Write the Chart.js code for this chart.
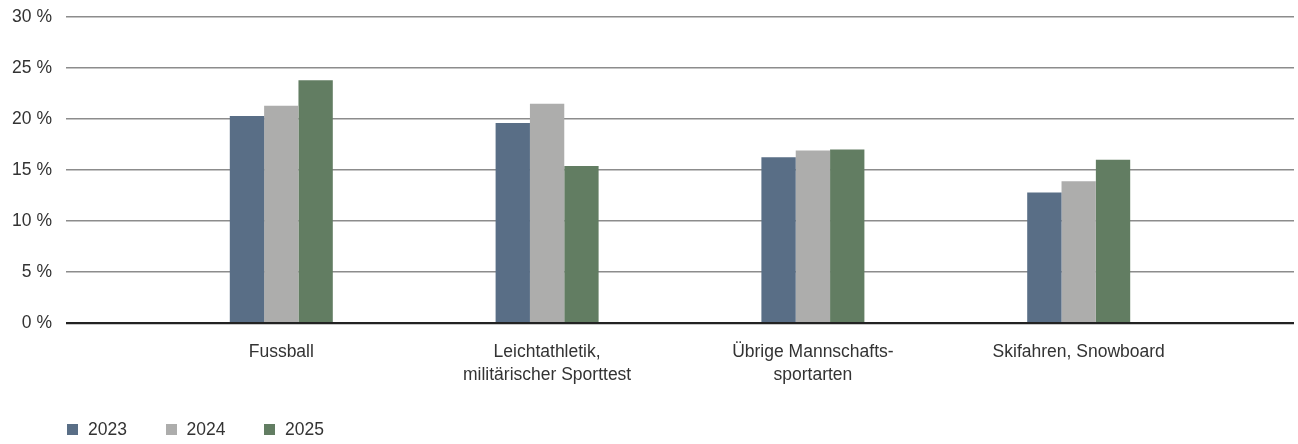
<!DOCTYPE html>
<html>
<head>
<meta charset="utf-8">
<script src="https://cdn.jsdelivr.net/npm/chart.js@4"></script>
<style>
  body { margin: 0; background: #fff; }
  #wrap { position: relative; width: 1298px; height: 444px; }
  #legende {
    position: absolute; left: 67px; top: 418px; display: flex;
    font-family: 'Liberation Sans', Arial, Helvetica, sans-serif;
    font-size: 17.5px; color: #333;
  }
  .item { display: flex; align-items: center; width: 98.5px; height: 22px; }
  .kotak { width: 11px; height: 11px; margin-right: 10px; }
</style>
</head>
<body>
<div id="wrap">
  <canvas id="sportChart"></canvas>
  <div id="legende"></div>
</div>
<script>
/* =========================
   DATA
========================= */
const kategorien = [
  'Fussball',
  ['Leichtathletik,', 'militärischer Sporttest'],
  ['Übrige Mannschafts-', 'sportarten'],
  'Skifahren, Snowboard'
];

const jahre = ['2023', '2024', '2025'];

const werte2023 = [20.3, 19.6, 16.25, 12.8];
const werte2024 = [21.3, 21.5, 16.9, 13.9];
const werte2025 = [23.8, 15.4, 17.0, 16.0];

const yTicks = [0, 5, 10, 15, 20, 25, 30];

const farben = ['#596e86', '#adadac', '#627d62'];

/* =========================
   CHART
========================= */
const schrift = { family: "'Liberation Sans', Arial, Helvetica, sans-serif", size: 17.5, lineHeight: 1.31 };
const reihen = [werte2023, werte2024, werte2025];

const chart = new Chart(document.getElementById('sportChart'), {
  type: 'bar',
  data: {
    datasets: reihen.map((werte, j) => ({
      label: jahre[j],
      data: werte.map((v, i) => ({ x: i, y: v })),
      backgroundColor: farben[j],
      borderWidth: 0,
      categoryPercentage: 0.3875,
      barPercentage: 1
    }))
  },
  options: {
    responsive: true,
    maintainAspectRatio: false,
    animation: false,
    layout: { padding: { top: 17, right: 4, left: 0, bottom: 0 } },
    plugins: {
      legend: { display: false },
      tooltip: { enabled: false }
    },
    scales: {
      x: {
        type: 'linear',
        offset: false,
        // kategorien sitzen weiter innen als bei einer normalen category-Achse
        min: -0.81,
        max: kategorien.length - 1 + 0.81,
        grid: { display: false, offset: false },
        border: { display: false },
        afterBuildTicks: (axis) => { axis.ticks = kategorien.map((k, i) => ({ value: i })); },
        afterFit: (scale) => { scale.height = 121; },
        ticks: {
          autoSkip: false,
          maxRotation: 0,
          padding: 10,
          color: '#333',
          font: schrift,
          callback: (val) => kategorien[val]
        }
      },
      y: {
        min: 0,
        max: 30,
        grid: {
          drawTicks: false,
          color: (c) => c.tick.value === 0 ? '#222' : '#8c8c8c',
          lineWidth: (c) => c.tick.value === 0 ? 2.2 : 1.4
        },
        border: { display: false },
        afterBuildTicks: (axis) => { axis.ticks = yTicks.map(v => ({ value: v })); },
        afterFit: (scale) => {
          scale.width = 66;
          scale.paddingTop = 0;
          scale.paddingBottom = 0;
        },
        ticks: {
          padding: 14,
          color: '#333',
          font: schrift,
          callback: (v) => v + ' %'
        }
      }
    }
  }
});

/* =========================
   LEGENDE
========================= */
const legende = document.getElementById('legende');
jahre.forEach((j, i) => {
  const el = document.createElement('div');
  el.className = 'item';
  el.innerHTML = '<span class="kotak" style="background:' + farben[i] + '"></span>' + j;
  legende.appendChild(el);
});
</script>
</body>
</html>
